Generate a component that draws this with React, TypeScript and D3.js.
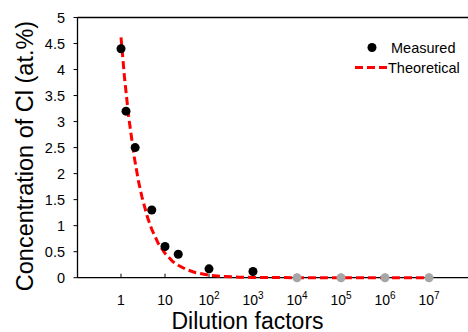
import React from "react";
import * as d3 from "d3";

const measuredX = [1, 1.3, 2.1, 5, 10, 20, 100, 1000];
const measuredY = [4.4, 3.2, 2.5, 1.3, 0.6, 0.45, 0.17, 0.12];
const zeroX = [1e4, 1e5, 1e6, 1e7];
const zeroY = [0, 0, 0, 0];
const theoX = [1, 1.2, 1.5, 2, 2.5, 3, 4, 5, 7, 10, 15, 20, 30, 50, 100, 200, 500, 1000, 1e4, 1e5, 1e6, 1e7];
const theoY = [4.62, 3.85, 3.08, 2.32, 1.85, 1.55, 1.16, 0.93, 0.66, 0.47, 0.31, 0.24, 0.16, 0.095, 0.048, 0.024, 0.01, 0.005, 0.0005, 0, 0, 0];
const xTicks = [1, 10, 100, 1000, 1e4, 1e5, 1e6, 1e7];
const xTickExp = ["", "", "2", "3", "4", "5", "6", "7"];
const yTicks = [0, 0.5, 1, 1.5, 2, 2.5, 3, 3.5, 4, 4.5, 5];

export default function App() {
  const W = 468, H = 332;
  const left = 77.5, top = 17.5, bottom = 277.7;
  const x = d3.scaleLog().domain([0.1, 1e8]).range([77, 473]);
  const y = d3.scaleLinear().domain([0, 5]).range([bottom, top]);
  const line = d3.line<number>().x((_, i) => x(theoX[i])).y((d) => y(d));
  const font = "'Liberation Sans', Arial, sans-serif";
  return (
    <svg width={W} height={H} style={{ position: "absolute", left: 0, top: 0, background: "#fff" }} fontFamily={font}>
      <line x1={left} y1={top} x2={W} y2={top} stroke="#000" strokeWidth={1.3} />
      <line x1={left} y1={top} x2={left} y2={bottom} stroke="#000" strokeWidth={1.3} />
      <line x1={left} y1={bottom} x2={W} y2={bottom} stroke="#000" strokeWidth={1.3} />
      {yTicks.map((t) => (
        <g key={"y" + t}>
          <line x1={left - 4} x2={left} y1={y(t)} y2={y(t)} stroke="#000" strokeWidth={1} />
          <text x={65} y={y(t) + 5} fontSize={14.5} textAnchor="end">{t}</text>
        </g>
      ))}
      {xTicks.map((t, i) => (
        <g key={"x" + t}>
          <line x1={x(t)} x2={x(t)} y1={bottom} y2={bottom - 4} stroke="#000" strokeWidth={1} />
          <text x={x(t)} y={304.5} fontSize={14} textAnchor="middle">
            {xTickExp[i] ? (
              <>
                <tspan>10</tspan>
                <tspan fontSize={10} dy={-6}>{xTickExp[i]}</tspan>
              </>
            ) : (
              String(t)
            )}
          </text>
        </g>
      ))}
      <path d={line(theoY) || ""} fill="none" stroke="#ff0000" strokeWidth={3} strokeDasharray="8,4" />
      {measuredX.map((v, i) => (
        <circle key={"m" + i} cx={x(v)} cy={y(measuredY[i])} r={4.5} fill="#000" />
      ))}
      {zeroX.map((v, i) => (
        <circle key={"z" + i} cx={x(v)} cy={y(zeroY[i])} r={4.5} fill="#a6a6a6" />
      ))}
      <circle cx={372} cy={47.5} r={4.5} fill="#000" />
      <text x={391} y={53} fontSize={14.5}>Measured</text>
      <line x1={355} x2={388} y1={67.5} y2={67.5} stroke="#ff0000" strokeWidth={3} strokeDasharray="8,4" />
      <text x={388} y={72.5} fontSize={14.5}>Theoretical</text>
      <text x={247.5} y={328.5} fontSize={23} textAnchor="middle">Dilution factors</text>
      <text transform="translate(33,156) rotate(-90)" fontSize={23.5} textAnchor="middle">Concentration of Cl (at.%)</text>
    </svg>
  );
}
